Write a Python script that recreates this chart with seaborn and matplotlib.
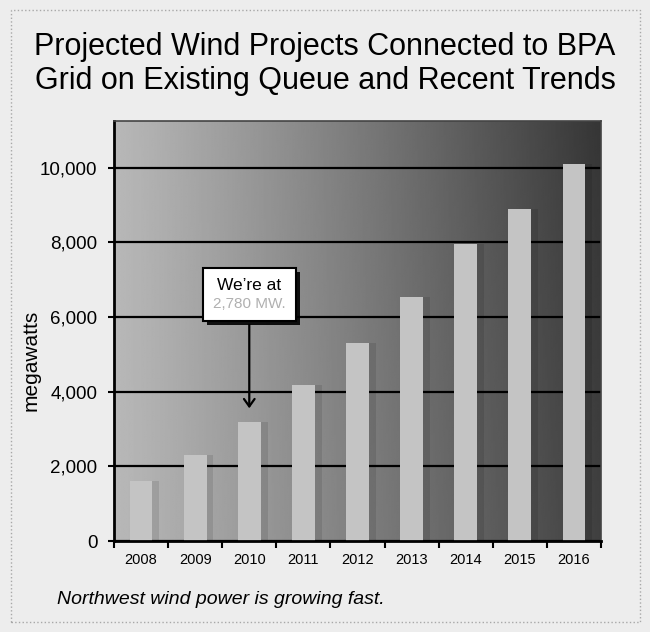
import numpy as np
import matplotlib
matplotlib.use("Agg")
import matplotlib.pyplot as plt
import matplotlib.patheffects as pe
from matplotlib.patches import Rectangle
from matplotlib.offsetbox import TextArea, VPacker, AnnotationBbox
import seaborn as sns

# Data
years = [2008, 2009, 2010, 2011, 2012, 2013, 2014, 2015, 2016]
megawatts = [1600, 2300, 3200, 4180, 5300, 6540, 7960, 8900, 10100]
y_ticks = [0, 2000, 4000, 6000, 8000, 10000]
current_mw = "2,780 MW."

TITLE = "Projected Wind Projects Connected to BPA\nGrid on Existing Queue and Recent Trends"
CAPTION = "Northwest wind power is growing fast."

sns.set_theme(style="white")
plt.rcParams['font.family'] = ['Liberation Sans', 'DejaVu Sans']
for key in ['text.color', 'axes.labelcolor', 'xtick.color', 'ytick.color']:
    plt.rcParams[key] = 'black'

W, H = 650, 632
fig = plt.figure(figsize=(W / 100, H / 100), dpi=100)
fig.patch.set_facecolor('#ededed')

ax = fig.add_axes([114 / W, 1 - 541 / H, (601 - 114) / W, (541 - 121) / H])

# bars
sns.barplot(x=years, y=megawatts, color='#c4c4c4', saturation=1, width=0.42,
            edgecolor='none', ax=ax, zorder=2)
for bar in ax.patches:
    bar.set_path_effects([pe.SimplePatchShadow(offset=(5, 0), shadow_rgbFace='black', alpha=0.1),
                          pe.Normal()])

# shaded plot background (light left -> dark right)
gx = np.linspace(0, 1, 300)
gy = np.linspace(0, 1, 200)[:, None]
grad = 0.72 - 0.47 * gx[None, :] ** 1.1 - 0.04 * (1 - gy) * gx[None, :]
ax.imshow(grad, extent=(0, 1, 0, 1), transform=ax.transAxes, aspect='auto',
          cmap='gray', vmin=0, vmax=1, zorder=0, interpolation='bilinear')

ax.set_xlim(-0.5, len(years) - 0.5)
ax.set_ylim(0, 11250)

# gridlines
ax.set_axisbelow(True)
ax.yaxis.grid(True, color='black', lw=1.6)
ax.xaxis.grid(False)

# ticks
ax.set_yticks(y_ticks)
ax.set_yticklabels([f"{v:,}" for v in y_ticks], fontsize=13.5)
ax.tick_params(axis='y', left=True, length=4, width=1.5, pad=8)
ax.set_xticks(np.arange(-0.5, len(years), 1))
ax.set_xticklabels([])
ax.set_xticks(range(len(years)), minor=True)
ax.set_xticklabels([str(y) for y in years], minor=True, fontsize=10.5)
ax.tick_params(axis='x', which='major', bottom=True, length=5, width=1.5)
ax.tick_params(axis='x', which='minor', bottom=False, length=0, pad=9)

for side in ['left', 'bottom']:
    ax.spines[side].set_color('black')
    ax.spines[side].set_linewidth(2)
for side in ['top', 'right']:
    ax.spines[side].set_color('#444444')
    ax.spines[side].set_linewidth(1.2)

ax.set_xlabel('')
ax.set_ylabel('megawatts', fontsize=15)
ax.yaxis.set_label_coords(-0.15, 0.43)

# callout
t1 = TextArea("We\u2019re at", textprops=dict(color='black', size=12.5))
t2 = TextArea(current_mw, textprops=dict(color='#b0b0b0', size=11))
box = VPacker(children=[t1, t2], align='center', pad=0, sep=3)
ab = AnnotationBbox(box, xy=(2, 3480), xybox=(2, 6600), xycoords='data', boxcoords='data',
                    frameon=True, pad=0.65,
                    bboxprops=dict(facecolor='white', edgecolor='black', lw=1.5),
                    arrowprops=dict(arrowstyle='->,head_length=0.35,head_width=0.25',
                                    color='black', lw=1.6))
ab.set_zorder(5)
ax.add_artist(ab)
ab.patch.set_path_effects([pe.SimplePatchShadow(offset=(3, -3), shadow_rgbFace='black', alpha=0.9),
                           pe.Normal()])

# title and caption
fig.text(0.5, 1 - 64 / H, TITLE, ha='center', va='center', fontsize=22, linespacing=1.15)
fig.text(57 / W, 1 - 600 / H, CAPTION, ha='left', va='center', fontsize=14, style='italic')

# outer frame
fig.patches.append(Rectangle((11 / W, 10 / H), 629 / W, 612 / H, transform=fig.transFigure,
                             fill=False, edgecolor='#a8a8a8', lw=1, linestyle=':'))

fig.savefig('out.png', dpi=100)
